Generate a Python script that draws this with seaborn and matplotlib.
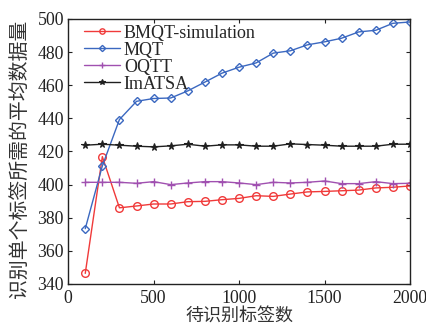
import numpy as np
import pandas as pd
import matplotlib
matplotlib.use("Agg")
import matplotlib.pyplot as plt
import seaborn as sns

x_vals = list(range(100, 2001, 100))
bmqt = [346.4, 416.9, 386.0, 387.1, 388.3, 388.3, 389.7, 389.9, 390.9, 391.7,
        393.3, 392.9, 394.3, 395.6, 395.9, 396.3, 396.7, 398.0, 398.4, 399.2]
mqt = [373.4, 411.3, 439.3, 450.3, 452.0, 452.3, 456.6, 461.9, 467.3, 470.9,
       473.5, 479.4, 480.8, 484.4, 486.2, 488.4, 492.2, 493.2, 497.4, 498.2]
oqtt = [401.4, 401.4, 401.4, 400.8, 401.8, 400.0, 401.0, 401.8, 401.8, 401.0,
        400.0, 401.4, 401.0, 401.4, 402.2, 400.6, 400.6, 401.8, 400.6, 400.8]
imatsa = [423.8, 424.4, 423.8, 423.2, 422.8, 423.4, 424.4, 423.2, 424.0, 424.0,
          423.2, 423.2, 424.6, 424.2, 423.8, 423.2, 423.2, 423.2, 424.4, 424.4]
series_names = ["BMQT-simulation", "MQT", "OQTT", "ImATSA"]
x_ticks = [0, 500, 1000, 1500, 2000]
y_ticks = [340, 360, 380, 400, 420, 440, 460, 480, 500]
x_label = "待识别标签数"
y_label = "识别单个标签所需的平均数据量"

df = pd.DataFrame({
    "x": x_vals * 4,
    "value": bmqt + mqt + oqtt + imatsa,
    "series": sum([[n] * len(x_vals) for n in series_names], []),
})

sns.set_style("ticks")
plt.rcParams["font.family"] = ["Liberation Serif", "Noto Sans CJK SC"]

fig = plt.figure(figsize=(4.26, 3.27), dpi=100)
ax = fig.add_axes([0.16, 0.1315, 0.8024, 0.8104])

styles = {
    "BMQT-simulation": dict(color="#f03a3a", marker="o", mfc="none", ms=5.5, mew=1.0),
    "MQT": dict(color="#3b68c0", marker="D", mfc="none", ms=4.5, mew=1.0),
    "OQTT": dict(color="#a050b0", marker="+", ms=6, mew=1.0),
    "ImATSA": dict(color="#202020", marker="*", ms=5.5, mew=0.8),
}
for name in series_names:
    st = styles[name]
    sns.lineplot(data=df[df["series"] == name], x="x", y="value", ax=ax,
                 color=st["color"], marker=st["marker"], markersize=st["ms"],
                 markerfacecolor=st.get("mfc", st["color"]),
                 markeredgecolor=st["color"], markeredgewidth=st["mew"],
                 linewidth=1.0, label=name, errorbar=None)

ax.set_xlim(0, 2000)
ax.set_ylim(340, 500)
ax.set_xticks(x_ticks)
ax.set_yticks(y_ticks)
ax.tick_params(direction="in", length=3, width=0.8, labelsize=12.8,
               top=True, right=True, colors="#222222", pad=3)
ax.tick_params(axis="x", pad=4.5)
for s in ax.spines.values():
    s.set_visible(True)
    s.set_linewidth(1.0)
    s.set_color("#222222")
ax.set_xlabel(x_label, family=["Noto Sans CJK SC"], fontsize=13, color="#333333",
              fontweight="light")
ax.set_ylabel(y_label, family=["Noto Sans CJK SC"], fontsize=14.3, color="#333333",
              fontweight="light")
ax.xaxis.set_label_coords(0.5, -0.09)
ax.yaxis.set_label_coords(-0.111, 0.472)

leg = ax.legend(loc="upper left", frameon=False, fontsize=13, handlelength=2.0,
                handletextpad=0.2, labelspacing=0.0, borderaxespad=0.2,
                markerscale=0.7, bbox_to_anchor=(0.015, 1.02))

fig.savefig("out.png", dpi=100)
